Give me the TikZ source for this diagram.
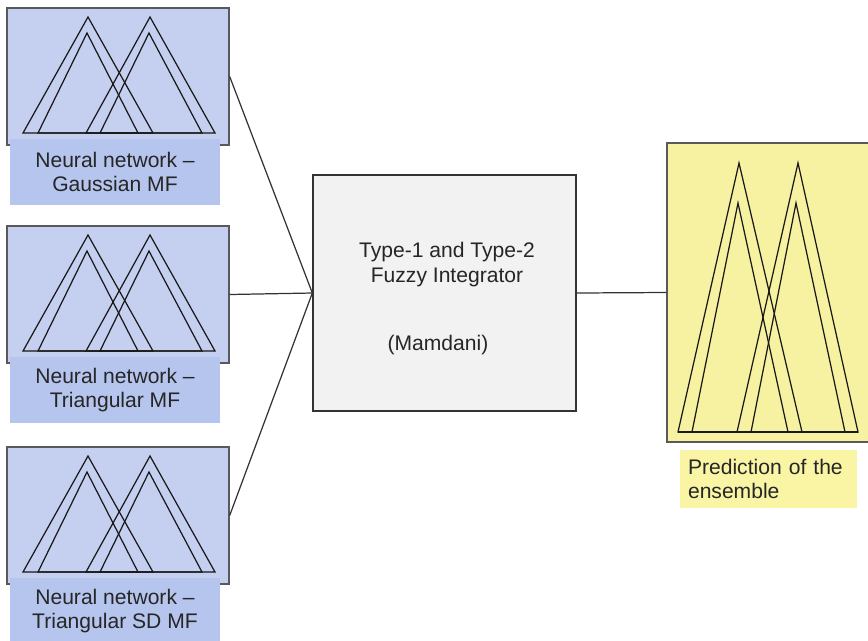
\documentclass[tikz,border=0pt]{standalone}
\usepackage{fontspec}
\setmainfont{Liberation Sans}

\definecolor{nnblue}{RGB}{197,207,239}
\definecolor{nnlabelblue}{RGB}{182,197,237}
\definecolor{fuzzygray}{RGB}{242,242,242}
\definecolor{outyellow}{RGB}{246,242,162}
\definecolor{outlabelyellow}{RGB}{249,245,165}

\tikzset{
  nnbox/.style={draw=gray!70!black, line width=0.8pt, fill=nnblue,
    minimum width=4.44cm, minimum height=2.74cm, inner sep=0pt},
  nnlabel/.style={fill=nnlabelblue, minimum width=4.2cm, minimum height=1.32cm,
    inner sep=0pt, align=center, text=black!85, font=\fontsize{12}{14}\selectfont},
  fuzzybox/.style={draw=black!80, line width=0.8pt, fill=fuzzygray,
    minimum width=5.26cm, minimum height=4.72cm, inner sep=0pt},
  fuzzytext/.style={align=center, text=black!85, font=\fontsize{12}{14}\selectfont},
  outbox/.style={draw=gray!70!black, line width=0.8pt, fill=outyellow,
    minimum width=4.1cm, minimum height=5.98cm, inner sep=0pt},
  outlabel/.style={fill=outlabelyellow, minimum height=1.16cm, text width=3.22cm,
    inner xsep=0.16cm, inner ysep=0pt, align=left, text=black!85,
    font=\fontsize{12}{14}\selectfont},
  mf/.style={draw=black!90, line width=0.7pt},
  link/.style={draw=black!80, line width=0.7pt}
}

\begin{document}
\begin{tikzpicture}[x=0.02cm, y=-0.02cm]
\useasboundingbox (0,0) rectangle (868,640);

% integrator and output
\node[fuzzybox] (fuzzy) at (444.5,293) {};
\node[fuzzytext] (fuzzytitle) at (447,264.5) {Type-1 and Type-2\\Fuzzy Integrator};
\node[fuzzytext] (mamdani) at (438,345) {(Mamdani)};

\node[outbox] (out) at (769.5,292.5) {};
\draw[mf] (678,432) -- (739,163) -- (802,432) -- cycle;
\draw[mf] (692,432) -- (738,203) -- (788,432) -- cycle;
\draw[mf] (737,432) -- (798,163) -- (858,432) -- cycle;
\draw[mf] (751,432) -- (796,203) -- (845,432) -- cycle;
\draw[mf] (678,432) -- (858,432);
\node[outlabel] (outtext) at (768.5,479) {Prediction of the\\ensemble};

\draw[link] (fuzzy.east) -- (out.west);

% the three neural networks
\foreach \n/\y/\name in {1/8/Gaussian MF, 2/226/Triangular MF, 3/447/Triangular SD MF} {
  \node[nnbox] (nn\n) at (118,\y+68.5) {};
  \begin{scope}[shift={(7,\y)}]
    \draw[mf] (16,125) -- (81,9) -- (146,125) -- cycle;
    \draw[mf] (31,125) -- (80,25) -- (131,125) -- cycle;
    \draw[mf] (79,125) -- (143,9) -- (208,125) -- cycle;
    \draw[mf] (93,125) -- (142,25) -- (195,125) -- cycle;
  \end{scope}
  \node[nnlabel] (nnlabel\n) at (115,\y+164) {Neural network --\\\name};
  \draw[link] (nn\n.east) -- (fuzzy.west);
}
\end{tikzpicture}
\end{document}
